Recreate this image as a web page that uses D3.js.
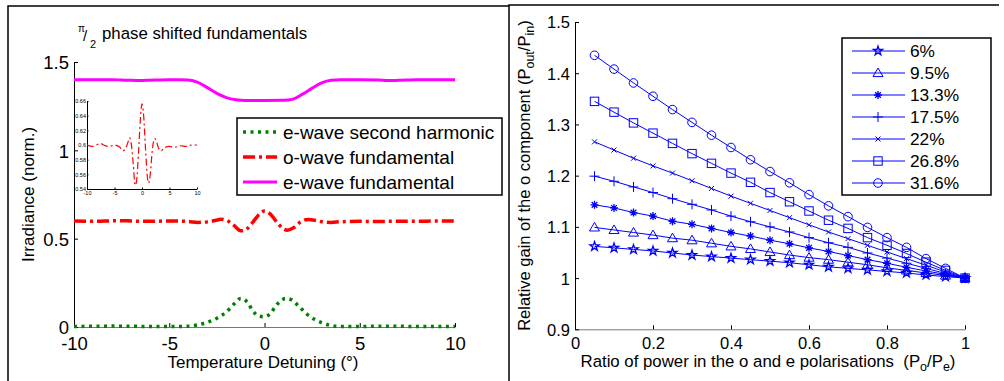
<!DOCTYPE html>
<html><head><meta charset="utf-8">
<script src="https://cdn.jsdelivr.net/npm/d3@7"></script>
<style>
html,body{margin:0;padding:0;background:#fff;}
svg{display:block;font-family:"Liberation Sans",Arial,sans-serif;}
</style></head>
<body>
<svg id="c" width="1004" height="381"></svg>
<script>
// ---------- Left chart data ----------
const shTemp = [-10,-9,-8,-7,-6,-5,-4.5,-4,-3.5,-3,-2.5,-2,-1.6,-1.25,-0.9,-0.6,-0.3,0,0.3,0.6,0.9,1.1,1.4,1.8,2.2,2.6,3,3.5,4,4.5,5,6,7,8,9,10];
const shVals = [0.003,0.004,0.005,0.004,0.003,0.003,0.003,0.004,0.012,0.027,0.05,0.085,0.13,0.162,0.14,0.09,0.062,0.058,0.075,0.12,0.152,0.162,0.155,0.118,0.075,0.045,0.025,0.008,0.003,0.003,0.003,0.004,0.004,0.003,0.003,0.003];
const oTemp = [-10,-9,-8,-7.5,-7,-6,-5,-4,-3.5,-3,-2.5,-2.3,-2,-1.6,-1.25,-1,-0.6,-0.3,0,0.3,0.6,1,1.2,1.5,1.9,2.3,2.7,3,3.5,4,5,6,7,8,9,10];
const oVals = [0.60,0.598,0.601,0.602,0.60,0.598,0.60,0.597,0.592,0.595,0.605,0.61,0.604,0.575,0.545,0.55,0.595,0.635,0.656,0.64,0.6,0.555,0.548,0.56,0.595,0.609,0.603,0.596,0.592,0.596,0.598,0.597,0.599,0.598,0.60,0.60];
const eTemp = [-10,-9,-8,-7.5,-7,-6.5,-6,-5,-4.5,-4,-3.5,-3,-2.5,-2,-1.5,-1,0,1,1.5,2,2.5,3,3.5,4,5,6,6.5,7,8,9,10];
const eVals = [1.40,1.40,1.40,1.398,1.396,1.395,1.397,1.40,1.40,1.398,1.385,1.355,1.322,1.298,1.286,1.282,1.282,1.283,1.29,1.318,1.352,1.382,1.397,1.40,1.40,1.398,1.395,1.396,1.40,1.40,1.40];
const leftXTicks = [-10,-5,0,5,10];
const leftYTicks = [0,0.5,1,1.5];
const insetYTicks = [0.54,0.56,0.58,0.6,0.62,0.64,0.66];
const leftLegend = ["e-wave second harmonic","o-wave fundamental","e-wave fundamental"];

// ---------- Right chart data ----------
const ratio = [0.05,0.1,0.15,0.2,0.25,0.3,0.35,0.4,0.45,0.5,0.55,0.6,0.65,0.7,0.75,0.8,0.85,0.9,0.95,1.0];
const seriesNames = ["6%","9.5%","13.3%","17.5%","22%","26.8%","31.6%"];
const g6   = [1.062,1.059,1.056,1.053,1.049,1.045,1.042,1.039,1.036,1.033,1.030,1.026,1.022,1.019,1.016,1.013,1.010,1.006,1.003,1.0];
const g95  = [1.099,1.094,1.089,1.084,1.078,1.074,1.068,1.062,1.057,1.051,1.045,1.040,1.036,1.031,1.026,1.020,1.015,1.010,1.005,1.0];
const g133 = [1.143,1.137,1.128,1.121,1.111,1.105,1.097,1.089,1.082,1.074,1.067,1.059,1.052,1.044,1.036,1.029,1.021,1.014,1.007,1.0];
const g175 = [1.199,1.189,1.178,1.167,1.155,1.144,1.133,1.121,1.110,1.100,1.090,1.079,1.069,1.060,1.049,1.039,1.029,1.019,1.009,1.0];
const g22  = [1.266,1.250,1.234,1.219,1.205,1.190,1.175,1.160,1.146,1.132,1.118,1.104,1.090,1.077,1.064,1.051,1.038,1.025,1.012,1.0];
const g268 = [1.345,1.324,1.303,1.283,1.263,1.243,1.224,1.205,1.187,1.167,1.149,1.131,1.113,1.097,1.079,1.064,1.048,1.031,1.015,1.0];
const g316 = [1.435,1.408,1.381,1.355,1.329,1.304,1.279,1.255,1.231,1.208,1.186,1.163,1.141,1.120,1.099,1.079,1.060,1.038,1.019,1.0];
const seriesVals = [g6,g95,g133,g175,g22,g268,g316];
const markerTypes = ["hexagram","triangle","asterisk","plus","x","square","circle"];
const rightXTicks = [0,0.2,0.4,0.6,0.8,1];
const rightYTicks = [0.9,1,1.1,1.2,1.3,1.4,1.5];

const svg = d3.select("#c");
svg.append("rect").attr("width",1004).attr("height",381).attr("fill","#fff");

// panel frames
svg.append("path").attr("d","M8,381V6H509").attr("fill","none").attr("stroke","#000").attr("stroke-width",1.5);
svg.append("path").attr("d","M509,381V5H999").attr("fill","none").attr("stroke","#000").attr("stroke-width",1.5);

function styleAxis(g, fs, domainColor){
  g.selectAll(".domain").attr("stroke",domainColor||"#000").attr("stroke-width",1);
  g.selectAll(".tick line").attr("stroke","#000").attr("stroke-width",1);
  g.selectAll(".tick text").attr("font-size",fs).attr("fill","#000").attr("font-family","Liberation Sans, Arial, sans-serif");
}
const fmt = d => String(+d.toFixed(2));

// ================= LEFT =================
const lx = d3.scaleLinear().domain([-10,10]).range([74,455]);
const ly = d3.scaleLinear().domain([0,1.5]).range([327,62]);

const lxa = svg.append("g").attr("transform","translate(0,327)")
  .call(d3.axisBottom(lx).tickValues(leftXTicks).tickSizeInner(-4).tickSizeOuter(0).tickPadding(10).tickFormat(fmt));
styleAxis(lxa,18.5,"#777");
const lya = svg.append("g").attr("transform","translate(74,0)")
  .call(d3.axisLeft(ly).tickValues(leftYTicks).tickSizeInner(-4).tickSizeOuter(0).tickPadding(5).tickFormat(fmt));
styleAxis(lya,18.5);
lya.selectAll(".tick text").attr("dy","0.36em");

const line = (xs,ys,sx,sy) => d3.line().x((d,i)=>sx(xs[i])).y((d,i)=>sy(ys[i])).curve(d3.curveMonotoneX)(ys);

// e-wave fundamental (magenta)
svg.append("path").attr("d",line(eTemp,eVals,lx,ly)).attr("fill","none").attr("stroke","#ff00ff").attr("stroke-width",3);
// o-wave fundamental (red dash-dot)
svg.append("path").attr("d",line(oTemp,oVals,lx,ly)).attr("fill","none").attr("stroke","#ff0000").attr("stroke-width",3.5).attr("stroke-dasharray","12,4,3,4");
// e-wave SH (green dotted)
svg.append("path").attr("d",line(shTemp,shVals,lx,ly)).attr("fill","none").attr("stroke","#008000").attr("stroke-width",3.5).attr("stroke-dasharray","3,4.5");

// inset
const ix = d3.scaleLinear().domain([-10,10]).range([87,197]);
const iy = d3.scaleLinear().domain([0.54,0.66]).range([189,101]);
svg.append("rect").attr("x",87).attr("y",101).attr("width",110).attr("height",88).attr("fill","#fff");
const ixa = svg.append("g").attr("transform","translate(0,189)")
  .call(d3.axisBottom(ix).tickValues(leftXTicks).tickSizeInner(-1.5).tickSizeOuter(0).tickPadding(2.5).tickFormat(fmt));
styleAxis(ixa,5.5);
const iya = svg.append("g").attr("transform","translate(87,0)")
  .call(d3.axisLeft(iy).tickValues(insetYTicks).tickSizeInner(-1.5).tickSizeOuter(0).tickPadding(1).tickFormat(fmt));
styleAxis(iya,5.5);
iya.selectAll(".tick text").attr("dy","0.36em");
svg.append("path").attr("d",line(oTemp,oVals,ix,iy)).attr("fill","none").attr("stroke","#ff0000").attr("stroke-width",1.2).attr("stroke-dasharray","7,3,2,3");

// left labels
svg.append("text").attr("transform","translate(34,194.5) rotate(-90)").attr("text-anchor","middle")
  .attr("font-size",17).text("Irradiance (norm.)");
svg.append("text").attr("x",263).attr("y",368).attr("text-anchor","middle").attr("font-size",17).text("Temperature Detuning (°)");
// title
svg.append("text").attr("x",78).attr("y",32).attr("font-size",10).text("π");
svg.append("text").attr("x",83).attr("y",41).attr("font-size",15).text("/");
svg.append("text").attr("x",90).attr("y",48).attr("font-size",11).text("2");
svg.append("text").attr("x",102).attr("y",39).attr("font-size",16.8).text("phase shifted fundamentals");

// left legend
svg.append("rect").attr("x",237).attr("y",118).attr("width",265).attr("height",77).attr("fill","#fff").attr("stroke","#000").attr("stroke-width",1.5);
const llStyles = [
  {c:"#008000",w:3.5,d:"3,4.5"},
  {c:"#ff0000",w:3.5,d:"12,4,3,4"},
  {c:"#ff00ff",w:3,d:null}
];
const llRows = [132,157,182];
leftLegend.forEach((t,i)=>{
  const s = llStyles[i];
  const l = svg.append("line").attr("x1",243).attr("x2",277).attr("y1",llRows[i]).attr("y2",llRows[i])
    .attr("stroke",s.c).attr("stroke-width",s.w);
  if(s.d) l.attr("stroke-dasharray",s.d);
  svg.append("text").attr("x",283).attr("y",llRows[i]).attr("dy","0.36em").attr("font-size",19).text(t);
});

// ================= RIGHT =================
const rx = d3.scaleLinear().domain([0,1]).range([575,965]);
const ry = d3.scaleLinear().domain([0.9,1.5]).range([329.3,22]);
const rxa = svg.append("g").attr("transform","translate(0,329.3)")
  .call(d3.axisBottom(rx).tickValues(rightXTicks).tickSizeInner(-4).tickSizeOuter(0).tickPadding(8).tickFormat(fmt));
styleAxis(rxa,16.5,"#777");
const rya = svg.append("g").attr("transform","translate(575,0)")
  .call(d3.axisLeft(ry).tickValues(rightYTicks).tickSizeInner(-4).tickSizeOuter(0).tickPadding(5).tickFormat(fmt));
styleAxis(rya,16.5);
rya.selectAll(".tick text").attr("dy","0.36em");

const blue = "#0000ff";
function marker(g, type, x, y){
  const m = g.append("g").attr("transform",`translate(${x},${y})`).attr("fill","none").attr("stroke",blue).attr("stroke-width",1);
  if(type==="circle") m.append("circle").attr("r",4.3);
  else if(type==="square") m.append("rect").attr("x",-4.2).attr("y",-4.2).attr("width",8.4).attr("height",8.4);
  else if(type==="triangle") m.append("path").attr("d","M0,-5L5,3.6L-5,3.6Z");
  else if(type==="hexagram") m.append("path").attr("d",d3.symbol(d3.symbolStar,26)()).attr("stroke-width",1.3);
  else if(type==="asterisk"){
    let d="";
    for(let k=0;k<4;k++){const a=k*Math.PI/4;d+=`M${-4*Math.cos(a)},${-4*Math.sin(a)}L${4*Math.cos(a)},${4*Math.sin(a)}`;}
    m.append("path").attr("d",d).attr("stroke-width",1.3);
  }
  else if(type==="plus") m.append("path").attr("d","M-5,0H5M0,-5V5");
  else if(type==="x") m.append("path").attr("d","M-2.5,-2.5L2.5,2.5M-2.5,2.5L2.5,-2.5");
}
const rl = d3.line().x((d,i)=>rx(ratio[i])).y(d=>ry(d));
seriesVals.forEach((vals,si)=>{
  svg.append("path").attr("d",rl(vals)).attr("fill","none").attr("stroke",blue).attr("stroke-width",1);
  const g = svg.append("g");
  vals.forEach((v,i)=>marker(g,markerTypes[si],rx(ratio[i]),ry(v)));
});

// right legend
svg.append("rect").attr("x",842).attr("y",38).attr("width",149).attr("height",157).attr("fill","#fff").attr("stroke","#000").attr("stroke-width",1.5);
const rRows = [51,73,95,117,139,161,183];
seriesNames.forEach((t,i)=>{
  svg.append("line").attr("x1",852).attr("x2",905).attr("y1",rRows[i]).attr("y2",rRows[i]).attr("stroke",blue).attr("stroke-width",1);
  marker(svg,markerTypes[i],878,rRows[i]);
  svg.append("text").attr("x",910).attr("y",rRows[i]).attr("dy","0.36em").attr("font-size",17.3).text(t);
});

// right labels
const ryl = svg.append("text").attr("transform","translate(530,175.6) rotate(-90)").attr("text-anchor","middle").attr("font-size",16.5);
ryl.append("tspan").text("Relative gain of the o component (P");
ryl.append("tspan").attr("baseline-shift","-30%").attr("font-size",12.5).text("out");
ryl.append("tspan").text("/P");
ryl.append("tspan").attr("baseline-shift","-30%").attr("font-size",12.5).text("in");
ryl.append("tspan").text(")");

const rxl = svg.append("text").attr("x",768).attr("y",367).attr("text-anchor","middle").attr("font-size",16.8).attr("xml:space","preserve");
rxl.append("tspan").text("Ratio of power in the o and e polarisations  (P");
rxl.append("tspan").attr("baseline-shift","-30%").attr("font-size",12.5).text("o");
rxl.append("tspan").text("/P");
rxl.append("tspan").attr("baseline-shift","-30%").attr("font-size",12.5).text("e");
rxl.append("tspan").text(")");
</script>
</body></html>
